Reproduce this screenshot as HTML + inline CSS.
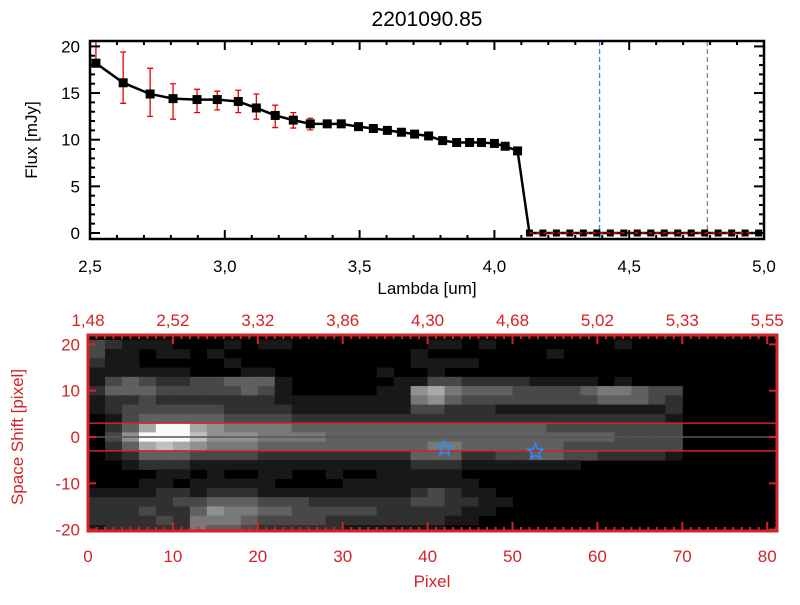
<!DOCTYPE html>
<html><head><meta charset="utf-8"><style>
body{margin:0;background:#fff;}
svg text{font-family:"Liberation Sans",sans-serif;}
</style></head><body>
<svg id="s" width="800" height="600" xmlns="http://www.w3.org/2000/svg">
<rect width="800" height="600" fill="#fff"/>
<text x="427" y="26" font-size="21" text-anchor="middle">2201090.85</text>
</svg>
<script>
const lam=[2.522,2.623,2.723,2.808,2.897,2.972,3.05,3.117,3.187,3.254,3.317,3.38,3.432,3.496,3.551,3.603,3.655,3.704,3.756,3.808,3.86,3.908,3.952,4.0,4.04,4.086,4.13,4.18,4.23,4.28,4.33,4.38,4.43,4.48,4.53,4.58,4.63,4.68,4.73,4.78,4.83,4.88,4.93,4.98];
const flux=[18.2,16.1,14.9,14.4,14.3,14.3,14.1,13.4,12.6,12.1,11.7,11.7,11.7,11.4,11.2,11.0,10.8,10.6,10.4,9.9,9.7,9.7,9.7,9.6,9.3,8.8,0,0,0,0,0,0,0,0,0,0,0,0,0,0,0,0,0,0];
const errLo=[0.4,2.2,2.4,2.2,1.4,1.1,1.2,1.2,1.3,0.85,0.65,0.35,0.2,0.2,0.2,0.2,0.1,0.1,0.1,0.1,0.1,0.1,0.1,0.1,0.1,0.1,0,0,0,0,0,0,0,0,0,0,0,0,0,0,0,0,0,0];
const errHi=[2.4,3.3,2.75,1.6,1.1,0.9,1.2,1.5,1.1,0.8,0.6,0.35,0.2,0.2,0.2,0.2,0.1,0.1,0.1,0.1,0.1,0.1,0.1,0.1,0.1,0.1,0,0,0,0,0,0,0,0,0,0,0,0,0,0,0,0,0,0];
const xTicks=[2.5,3.0,3.5,4.0,4.5,5.0];
const xTickLabels=["2,5","3,0","3,5","4,0","4,5","5,0"];
const yTicks=[0,5,10,15,20];
const vLines=[4.39,4.79];
const pixTicks=[0,10,20,30,40,50,60,70,80];
const topLabels=["1,48","2,52","3,32","3,86","4,30","4,68","5,02","5,33","5,55"];
const shiftTicks=[-20,-10,0,10,20];
const stars=[[42,-2.5],[52.7,-3.2]];
const img=[
"32111000101100000000110100000001000",
"31101101000000000001000000010000000",
"21100000100000000001111000000000000",
"11111100011000000100100000000000000",
"13432233444100000011332222111101000",
"24443333343100000116754443333455433",
"12232222222111111115643333333344432",
"12333333222211111113322211111111112",
"01344444333322222222222222222222221",
"02479976555544444444444444433333333",
"03699986665555444444444444444443333",
"02478765554444444444554444443333333",
"01244433332222222224442233443322221",
"00122211111111111112221111111000000",
"00001101001100100111110000000000000",
"00011011111000011111111000000000000",
"11112212221111111112321100000000000",
"22222334443332222223322110000000000",
"22232246554433333222221100000000000",
"22223255543333222222211000000000000",
"12222254432222211111100000000000000"];
const NS="http://www.w3.org/2000/svg",S=document.getElementById('s');
function el(t,a,p){const e=document.createElementNS(NS,t);for(const k in a)e.setAttribute(k,a[k]);(p||S).appendChild(e);return e;}
const L=90,R=764,T=41,B=239;
const X=v=>L+(v-2.5)/2.5*(R-L);
const Y=v=>233-9.33*v;
const g1=el('g',{});


vLines.forEach((v,i)=>{const l=el('line',{x1:X(v),x2:X(v),y1:T,y2:B,stroke:i?'#888':'#2a8cff','stroke-dasharray':'5,3','stroke-width':1.3},g1);

});
const ln=el('polyline',{points:lam.map((l,i)=>X(l)+','+Y(flux[i])).join(' '),fill:'none',stroke:'#000','stroke-width':2.5},g1);


lam.forEach((l,i)=>{
 if(errLo[i]+errHi[i]>0){const y1=Math.max(T,Y(flux[i]+errHi[i])),y2=Y(flux[i]-errLo[i]);
  const eb=el('path',{d:`M${X(l)},${y1}V${y2}M${X(l)-3},${y1}h6M${X(l)-3},${y2}h6`,stroke:'#e00','stroke-width':1.3,fill:'none'},g1);
  
  }
 const sz=flux[i]===0?7:9;
 const m=el('rect',{x:X(l)-sz/2,y:Y(flux[i])-sz/2,width:sz,height:sz,fill:'#000'},g1);
 
 
});
let zi=flux.findIndex(v=>v===0);
const zl=el('line',{x1:X(lam[zi]),x2:R,y1:Y(0),y2:Y(0),stroke:'#e00','stroke-dasharray':'4,3','stroke-width':1.5},g1);


el('rect',{x:L,y:T,width:R-L,height:B-T,fill:'none',stroke:'#000','stroke-width':2.5},g1);
for(let v=2.5;v<=5.001;v+=0.1){const big=Math.abs(v*2-Math.round(v*2))<1e-6,h=big?9:4;
 el('line',{x1:X(v),x2:X(v),y1:B,y2:B-h,stroke:'#000','stroke-width':2},g1);
 el('line',{x1:X(v),x2:X(v),y1:T,y2:T+h,stroke:'#000','stroke-width':2},g1);}
for(let v=0;v<=20;v++){const h=v%5?5:10;
 el('line',{x1:L,x2:L+h,y1:Y(v),y2:Y(v),stroke:'#000','stroke-width':2},g1);
 el('line',{x1:R,x2:R-h,y1:Y(v),y2:Y(v),stroke:'#000','stroke-width':2},g1);}
xTicks.forEach((v,i)=>{const t=el('text',{x:X(v),y:272,'font-size':17,'text-anchor':'middle'},g1);t.textContent=xTickLabels[i];
 
 });
yTicks.forEach(v=>{const t=el('text',{x:80,y:Y(v)+6,'font-size':17,'text-anchor':'end'},g1);t.textContent=v;
 
 });
let t=el('text',{x:427,y:294,'font-size':17,'text-anchor':'middle'},g1);t.textContent='Lambda [um]';


t=el('text',{x:0,y:0,'font-size':17,'text-anchor':'middle',transform:'translate(37,140) rotate(-90)'},g1);t.textContent='Flux [mJy]';


const L2=88,R2=777,T2=335,B2=531,RED='#d2232a';
const PX=v=>L2+v*8.49;
const PY=v=>437-v*4.63;
const g2=el('g',{});


el('rect',{x:L2,y:T2,width:R2-L2,height:B2-T2,fill:'#000'},g2);
img.forEach((row,r)=>{for(let c=0;c<row.length;c++){const lv=+row[c];if(!lv)continue;
 const gv=lv>=9?250:Math.round(lv*24);
 const y0=Math.max(T2,PY(21-2*r)),y1=Math.min(B2,PY(19-2*r));
 const cell=el('rect',{x:PX(2*c),y:y0,width:PX(2*c+2)-PX(2*c)+0.5,height:y1-y0+0.5,fill:`rgb(${gv},${gv},${gv})`},g2);
 
 }});
[[3,RED],[0,'#555'],[-3,RED]].forEach(([v,c])=>{const l=el('line',{x1:L2,x2:R2,y1:PY(v),y2:PY(v),stroke:c,'stroke-width':1.5},g2);
 
 });
stars.forEach(([x,y])=>{const cx=PX(x),cy=PY(y);let pts=[];
 for(let k=0;k<10;k++){const a=-Math.PI/2+k*Math.PI/5,r=k%2?3.5:8;pts.push((cx+r*Math.cos(a)).toFixed(1)+','+(cy+r*Math.sin(a)).toFixed(1));}
 const s=el('polygon',{points:pts.join(' '),fill:'none',stroke:'#2a8cff','stroke-width':1.5},g2);
 
 });
el('rect',{x:L2,y:T2,width:R2-L2,height:B2-T2,fill:'none',stroke:RED,'stroke-width':3},g2);
for(let v=0;v<=81;v++){const h=v%10?4:9;
 el('line',{x1:PX(v),x2:PX(v),y1:B2,y2:B2-h,stroke:RED,'stroke-width':2},g2);
 el('line',{x1:PX(v),x2:PX(v),y1:T2,y2:T2+h,stroke:RED,'stroke-width':2},g2);}
shiftTicks.forEach(v=>{el('line',{x1:L2,x2:L2+8,y1:PY(v),y2:PY(v),stroke:RED,'stroke-width':2},g2);
 el('line',{x1:R2,x2:R2-8,y1:PY(v),y2:PY(v),stroke:RED,'stroke-width':2},g2);
 const tt=el('text',{x:80,y:PY(v)+6,'font-size':17,'text-anchor':'end',fill:RED},g2);tt.textContent=v;
 
 });
pixTicks.forEach((v,i)=>{let a=el('text',{x:PX(v),y:562,'font-size':17,'text-anchor':'middle',fill:RED},g2);a.textContent=v;
 
 
 a=el('text',{x:PX(v),y:326,'font-size':17,'text-anchor':'middle',fill:RED},g2);a.textContent=topLabels[i];
 
 });
t=el('text',{x:432,y:587,'font-size':17,'text-anchor':'middle',fill:RED},g2);t.textContent='Pixel';


t=el('text',{x:0,y:0,'font-size':17,'text-anchor':'middle',fill:RED,transform:'translate(23,437) rotate(-90)'},g2);t.textContent='Space Shift [pixel]';


</script>
</body></html>
